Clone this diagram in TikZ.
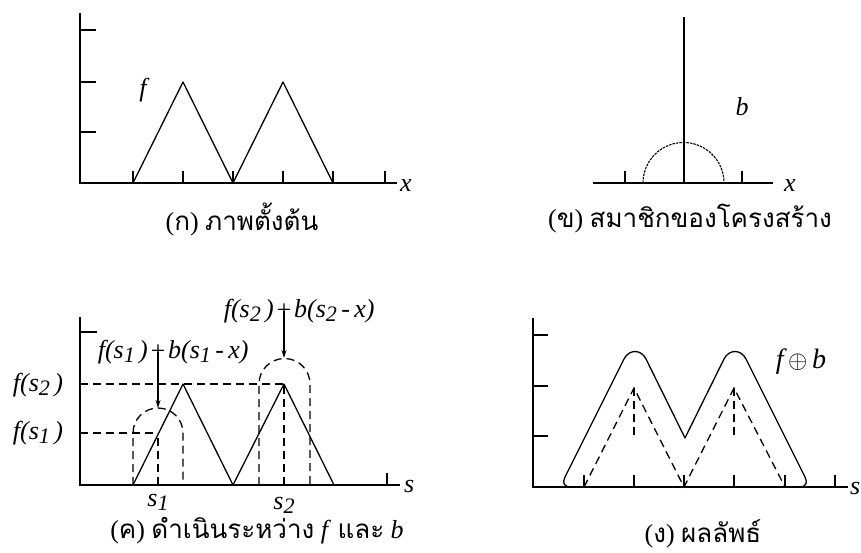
\documentclass[tikz,border=0pt]{standalone}
\usepackage{fontspec}
\usepackage{graphicx}
\setmainfont{Liberation Serif}
\newfontfamily\thai[Script=Thai]{Loma}
\newcommand\subsc[1]{\raisebox{-0.32ex}{\scalebox{0.85}{#1}}}
\usetikzlibrary{arrows.meta}
\begin{document}
\begin{tikzpicture}[x=1pt,y=-1pt,
  axisline/.style={line width=2.6pt},
  tickline/.style={line width=1.5pt},
  curve/.style={line width=1.3pt, line join=round},
  dashline/.style={line width=1.3pt, dash pattern=on 8pt off 5pt},
  fineline/.style={line width=1.1pt, dash pattern=on 2.5pt off 1pt},
  lab/.style={inner sep=0pt, font=\fontsize{26}{28}\selectfont\itshape},
  captext/.style={inner sep=0pt, font=\fontsize{26}{29}\selectfont},
  arr/.style={line width=1.1pt, -{Stealth[length=8pt,width=5pt]}}]
\useasboundingbox (0,0) rectangle (861,553);
% ---------------- panel (a)
\draw[axisline] (80,13) -- (80,183) -- (397,183);
\foreach \y in {30,82,132} \draw[tickline] (80,\y) -- (96,\y);
\foreach \x in {133,183,233,283,333,385} \draw[tickline] (\x,183) -- (\x,171);
\draw[curve] (133,183) -- (183,82) -- (233,183) -- (283,82) -- (333,183);
\node[lab] (fa) at (143,90) {f};
\node[lab, anchor=west] (xa) at (400,186) {x};
\node[captext] (capa) at (242,219) {({\thai ก}) {\thai ภาพตั้งต้น}};
% ---------------- panel (b)
\draw[axisline, line width=2.2pt] (684,17) -- (684,183);
\draw[axisline, line width=2.2pt] (593,183) -- (773,183);
\foreach \x in {625,742} \draw[tickline] (\x,183) -- (\x,171);
\draw[fineline] (643,183) arc[start angle=180, end angle=360, radius=40.5];
\node[lab] (bb) at (742,107) {b};
\node[lab] (xb) at (790,186) {x};
\node[captext] (capb) at (690,219) {({\thai ข}) {\thai สมาชิกของโครงสร้าง}};
% ---------------- panel (c)
\draw[axisline] (80,317) -- (80,485) -- (400,485);
\draw[tickline] (80,332) -- (97,332);
\draw[tickline] (387,485) -- (387,473);
\draw[curve] (133,485) -- (183,384) -- (233,485) -- (284,384) -- (334,485);
\draw[dashline] (80,384) -- (284,384);
\draw[dashline] (80,433) -- (158,433);
\draw[dashline] (133,485) -- (133,433) arc[start angle=180, end angle=360, radius=25] -- (183,485);
\draw[dashline] (158,485) -- (158,433);
\draw[dashline] (259,485) -- (259,384) arc[start angle=180, end angle=360, radius=25.5] -- (310,485);
\draw[dashline] (284,485) -- (284,384);
\node[lab] (pl1) at (158,352) {+};
\node[lab, anchor=east] (l1a) at ([xshift=-1pt]pl1.west) {f(s\subsc{1}\,)};
\node[lab, anchor=west] (l1b) at ([xshift=1pt]pl1.east) {b(s\subsc{1}\,-\,x)};
\node[lab] (pl2) at (284,311) {+};
\node[lab, anchor=east] (l2a) at ([xshift=-1pt]pl2.west) {f(s\subsc{2}\,)};
\node[lab, anchor=west] (l2b) at ([xshift=1pt]pl2.east) {b(s\subsc{2}\,-\,x)};
\coordinate (d1) at (158,408);
\coordinate (d2) at (284,358);
\draw[arr] (pl1.center) -- (d1);
\draw[arr] (pl2.center) -- (d2);
\node[lab] (fs2) at (38,385) {f(s\subsc{2}\,)};
\node[lab] (fs1) at (38,433) {f(s\subsc{1}\,)};
\node[lab] (s1) at (158,502) {s\subsc{1}};
\node[lab] (s2) at (284,505) {s\subsc{2}};
\node[lab, anchor=west] (sc) at (404,486) {s};
\node[captext] (capc) at (257,531) {({\thai ค}) {\thai ดำเนินระหว่าง} \textit{f} {\thai และ} \textit{b}};
% ---------------- panel (d)
\draw[axisline] (533,318) -- (533,487) -- (848,487);
\foreach \y in {335,386,436} \draw[tickline] (533,\y) -- (548,\y);
\foreach \x in {584,634,684,734,785,835} \draw[tickline] (\x,487) -- (\x,475);
\draw[dashline] (584,487) -- (634,388) -- (684,487) -- (734,388) -- (785,487);
\draw[dashline] (634,388) -- (634,437);
\draw[dashline] (734,388) -- (734,437);
\draw[curve] (571,487) .. controls (564,487) and (562,483) .. (565,477)
  -- (624,359) .. controls (629,349) and (641,349) .. (646,359)
  -- (685,438) -- (724,359) .. controls (729,349) and (741,349) .. (746,359)
  -- (805,477) .. controls (808,483) and (806,487) .. (799,487);
\node[lab, font=\fontsize{28}{30}\selectfont\itshape] (fb) at (801,362) {f\,$\oplus$\,b};
\node[lab, anchor=west] (sd) at (850,488) {s};
\node[captext] (capd) at (703,534) {({\thai ง}) {\thai ผลลัพธ์}};
\end{tikzpicture}
\end{document}
